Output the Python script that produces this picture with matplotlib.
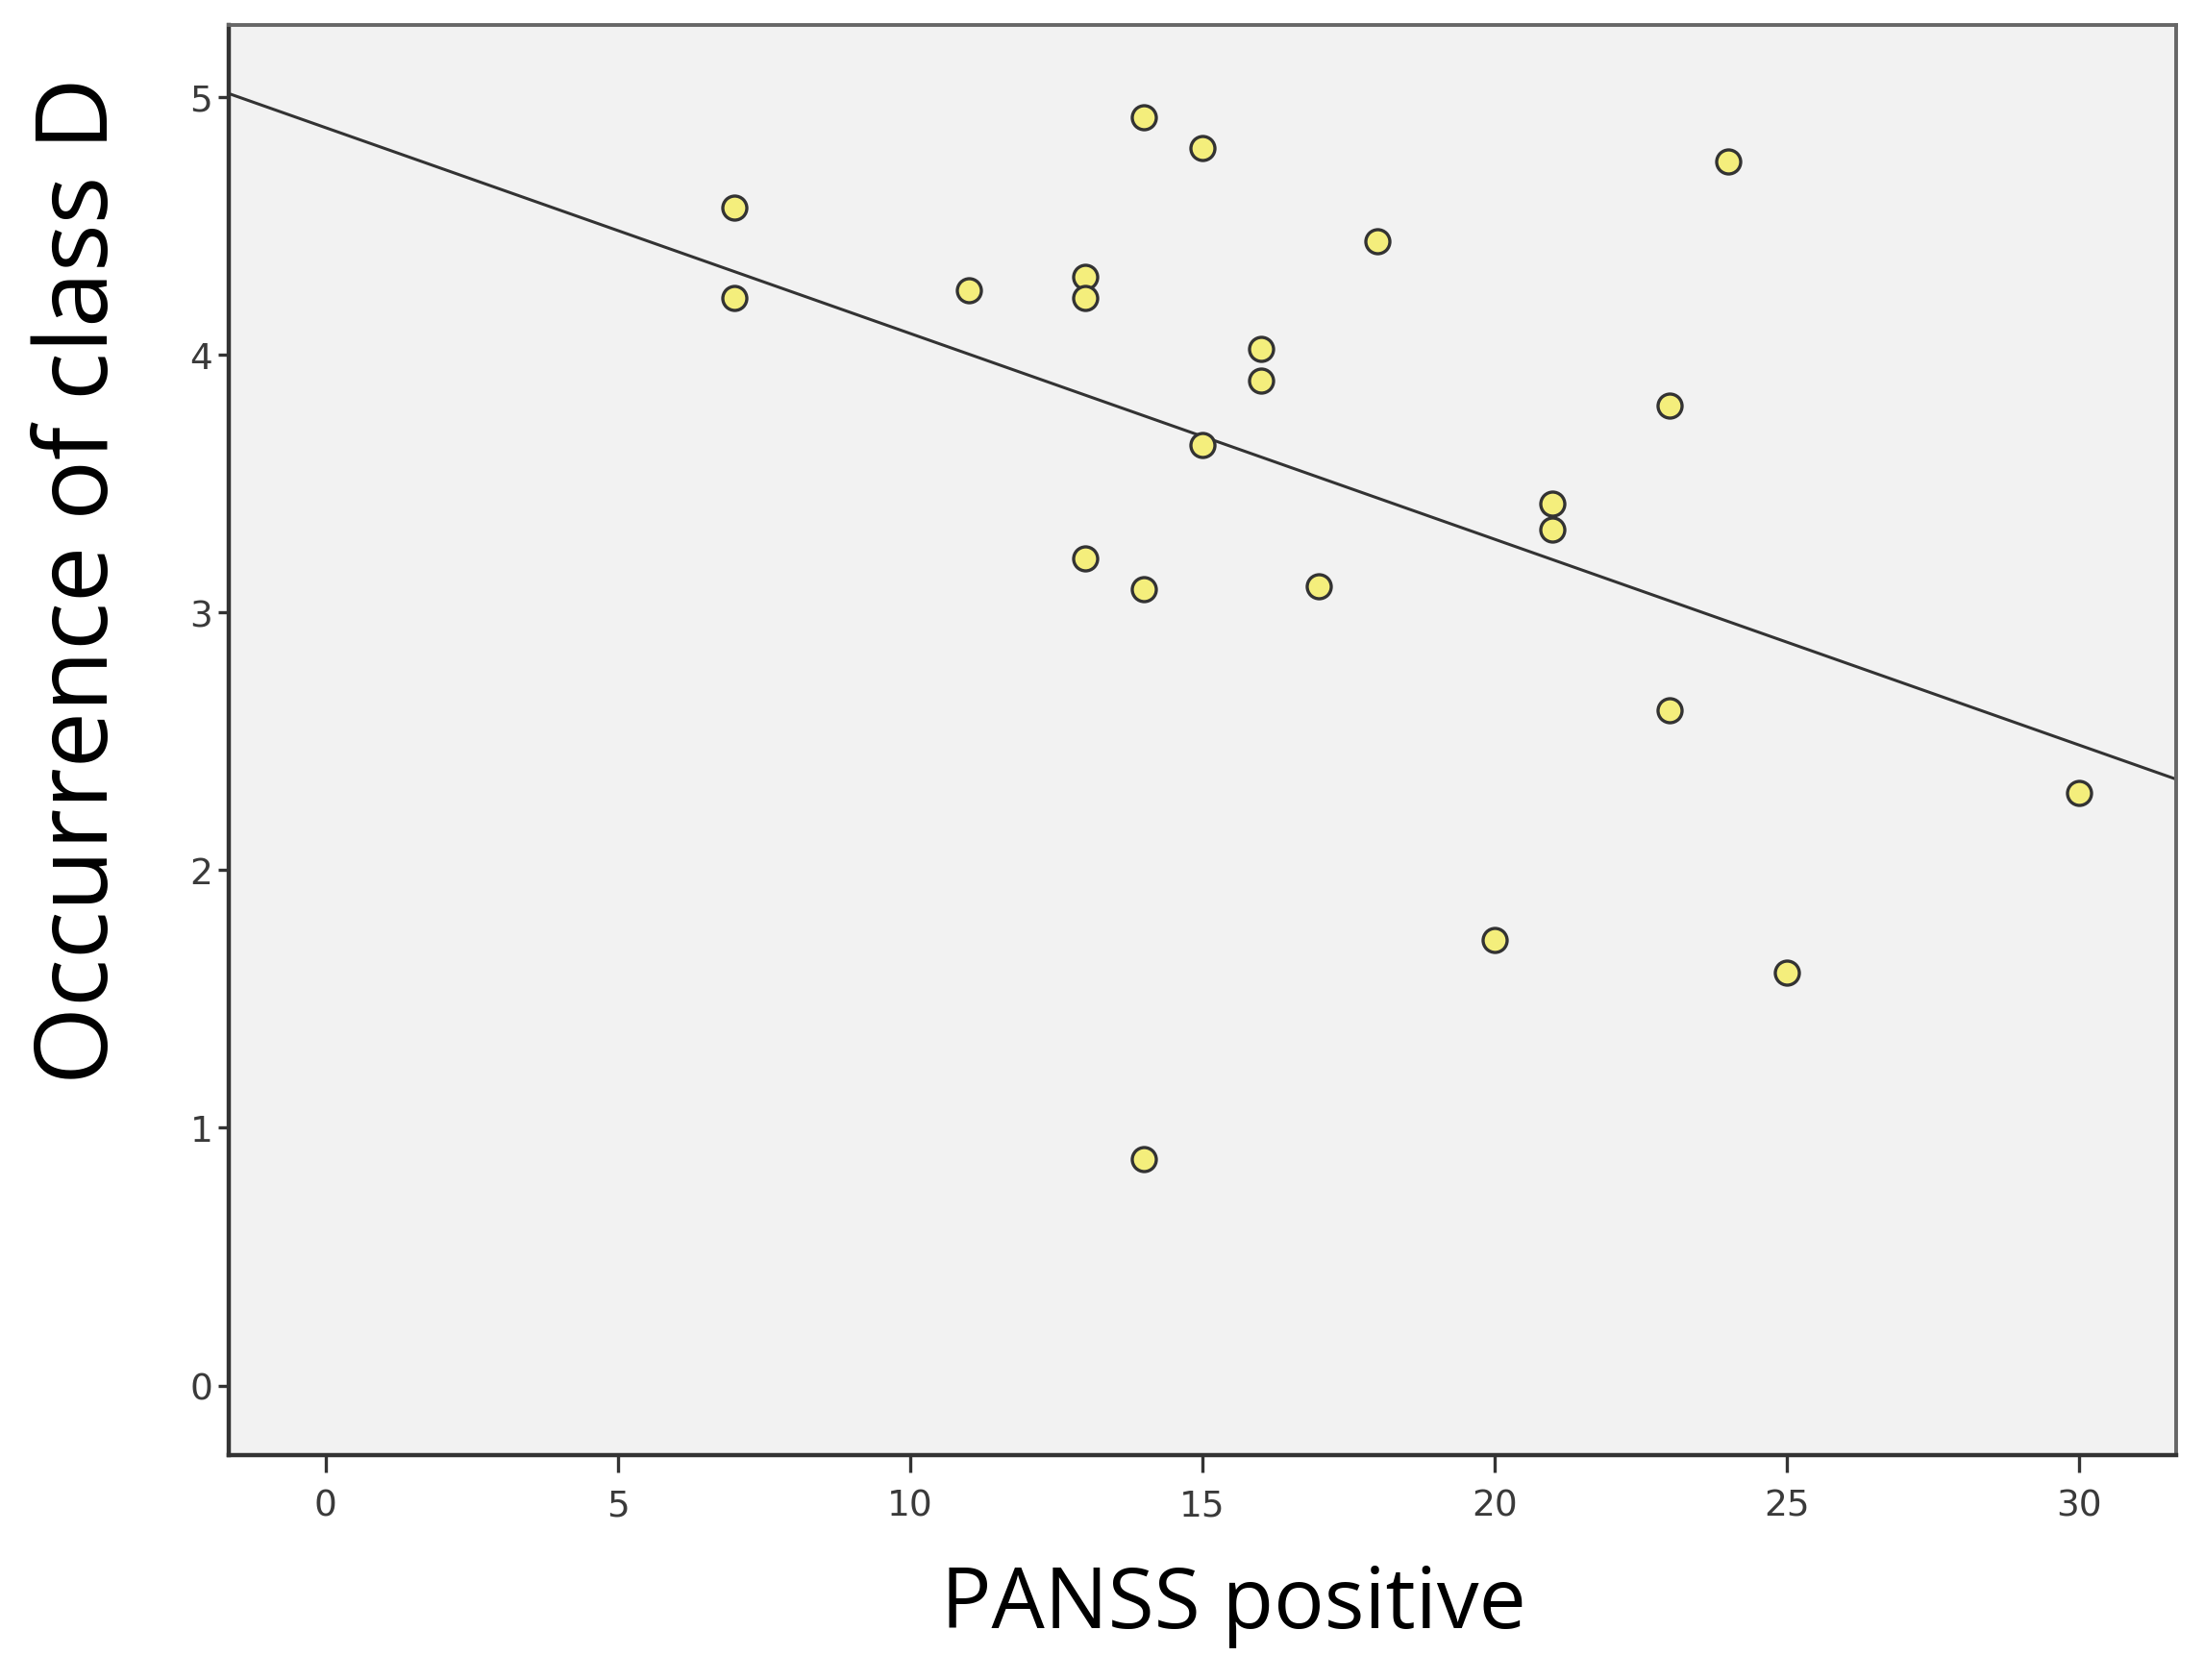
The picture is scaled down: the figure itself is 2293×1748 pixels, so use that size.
import numpy as np
import matplotlib
matplotlib.use('Agg')
import matplotlib.pyplot as plt

# PANSS positive score vs occurrence of class D
panss = [7, 7, 11, 13, 13, 14, 15, 18, 24, 16, 16, 15, 23, 21, 21, 13, 14, 17, 23, 30, 20, 25, 14]
occurrence = [4.57, 4.22, 4.25, 4.30, 4.22, 4.92, 4.80, 4.44, 4.75, 4.02, 3.90, 3.65, 3.80,
              3.42, 3.32, 3.21, 3.09, 3.10, 2.62, 2.30, 1.73, 1.60, 0.88]
xticks = [0, 5, 10, 15, 20, 25, 30]
yticks = [0, 1, 2, 3, 4, 5]

fig = plt.figure(figsize=(22.93, 17.49), dpi=100)
ax = fig.add_axes([0.1038, 0.1338, 0.8836, 0.851])
ax.set_facecolor('#f2f2f2')

xlim = (-1.66, 31.67)
ylim = (-0.27, 5.28)

slope, intercept = np.polyfit(panss, occurrence, 1)
xs = np.array(xlim)
ax.plot(xs, intercept + slope * xs, color='#333333', lw=2.2, zorder=2)

ax.plot(panss, occurrence, 'o', ms=18, mfc='#f4ee7c', mec='#333333', mew=2.4, zorder=3)

ax.set_xlim(*xlim)
ax.set_ylim(*ylim)
ax.set_xticks(xticks)
ax.set_yticks(yticks)

for s in ['left', 'bottom']:
    ax.spines[s].set_linewidth(3.2)
    ax.spines[s].set_color('#333333')
for s in ['top', 'right']:
    ax.spines[s].set_linewidth(2.8)
    ax.spines[s].set_color('#666666')

ax.tick_params(axis='x', direction='out', length=13, width=2.4, color='#333333',
               labelsize=27, labelcolor='#3a3a3a', pad=12)
ax.tick_params(axis='y', direction='out', length=8, width=2.4, color='#333333',
               labelsize=27, labelcolor='#3a3a3a', pad=4)
for lab in ax.get_xticklabels() + ax.get_yticklabels():
    lab.set_family('DejaVu Sans')

ax.set_xlabel('PANSS positive', fontsize=63, family='Open Sans', labelpad=30)
ax.xaxis.label.set_x(0.516)
ax.set_ylabel('Occurrence of class D', fontsize=75, family='Open Sans')
ax.yaxis.set_label_coords(-0.05, 0.612)

fig.savefig('out.png', dpi=100)
